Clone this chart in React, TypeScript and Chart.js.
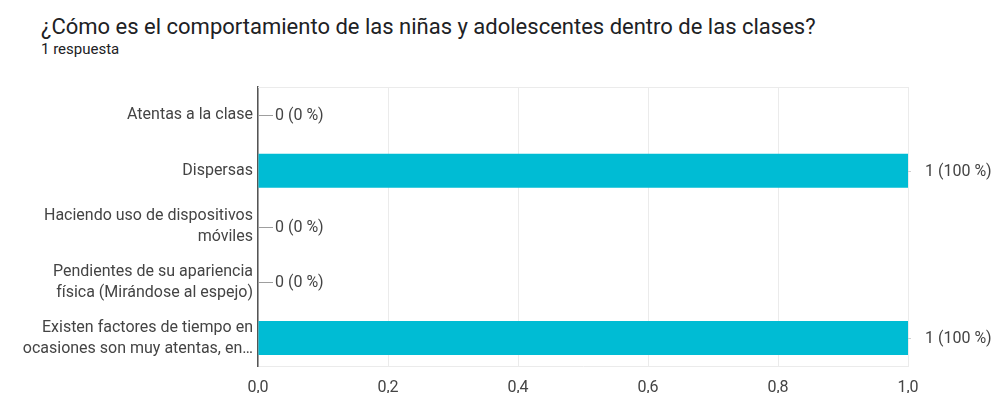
import React, { useEffect, useRef } from "react";
import { Chart, registerables } from "chart.js";

Chart.register(...registerables);

const titleText = "¿Cómo es el comportamiento de las niñas y adolescentes dentro de las clases?";
const subtitleText = "1 respuesta";

const categories: string[][] = [
  ["Atentas a la clase"],
  ["Dispersas"],
  ["Haciendo uso de dispositivos", "móviles"],
  ["Pendientes de su apariencia", "física (Mirándose al espejo)"],
  ["Existen factores de tiempo en", "ocasiones son muy atentas, en…"],
];
const counts: number[] = [0, 1, 0, 0, 1];
const percents: number[] = [0, 100, 0, 0, 100];
const xMin = 0;
const xMax = 1;
const xStep = 0.2;

const BAR_COLOR = "#00bcd4";
const TEXT_COLOR = "#444444";
const FONT = "Roboto, 'Noto Sans', Arial, sans-serif";

const annotationPlugin = {
  id: "barAnnotations",
  afterDatasetsDraw(chart: any) {
    const ctx = chart.ctx as CanvasRenderingContext2D;
    const meta = chart.getDatasetMeta(0);
    meta.data.forEach((bar: any, i: number) => {
      const x = bar.x;
      const y = Math.round(bar.y) + 0.5;
      const zero = counts[i] === 0;
      ctx.save();
      ctx.strokeStyle = zero ? "#9e9e9e" : "#cfcfcf";
      ctx.lineWidth = 1;
      ctx.beginPath();
      ctx.moveTo(x, y);
      ctx.lineTo(x + (zero ? 15 : 3), y);
      ctx.stroke();
      ctx.fillStyle = TEXT_COLOR;
      ctx.font = `16px ${FONT}`;
      ctx.textBaseline = "middle";
      ctx.textAlign = "left";
      ctx.fillText(`${counts[i]} (${percents[i]} %)`, x + (zero ? 17 : 17), y);
      ctx.restore();
    });
  },
};

const frameLinesPlugin = {
  id: "frameLines",
  beforeDatasetsDraw(chart: any) {
    const { ctx, chartArea } = chart;
    ctx.save();
    ctx.strokeStyle = "#ebebeb";
    ctx.lineWidth = 1;
    ctx.beginPath();
    ctx.moveTo(chartArea.left, chartArea.top + 0.5);
    ctx.lineTo(chartArea.right, chartArea.top + 0.5);
    ctx.stroke();
    ctx.restore();
  },
};

export default function App() {
  const canvasRef = useRef<HTMLCanvasElement | null>(null);

  useEffect(() => {
    document.body.style.margin = "0";
    const canvas = canvasRef.current;
    if (!canvas) return;
    const chart = new Chart(canvas, {
      type: "bar",
      data: {
        labels: categories,
        datasets: [
          {
            data: counts,
            backgroundColor: BAR_COLOR,
            borderWidth: 0,
            barPercentage: 0.61,
            categoryPercentage: 1,
          },
        ],
      },
      options: {
        indexAxis: "y",
        animation: false,
        responsive: true,
        maintainAspectRatio: false,
        layout: { padding: { left: 0, right: 90, top: 87, bottom: 0 } },
        plugins: {
          legend: { display: false },
          tooltip: { enabled: false },
        },
        scales: {
          x: {
            min: xMin,
            max: xMax,
            ticks: {
              stepSize: xStep,
              color: TEXT_COLOR,
              padding: 12,
              font: { family: FONT, size: 16 },
              callback: (v: any) => Number(v).toFixed(1).replace(".", ","),
            },
            grid: { color: "#ebebeb", drawTicks: false },
            border: { display: true, color: "#ebebeb" },
            afterFit: (scale: any) => {
              scale.height = 27;
            },
          },
          y: {
            ticks: {
              color: TEXT_COLOR,
              padding: 5,
              font: { family: FONT, size: 16, lineHeight: 1.3 },
            },
            grid: { display: false, drawTicks: false },
            border: { display: true, color: "#555555", width: 1.5 },
            afterFit: (scale: any) => {
              scale.width = 258;
            },
          },
        },
      },
      plugins: [frameLinesPlugin, annotationPlugin],
    });
    return () => chart.destroy();
  }, []);

  return (
    <div style={{ position: "fixed", left: 0, top: 0, width: 998, height: 393, background: "#fff" }}>
      <div
        style={{
          position: "absolute",
          left: 41,
          top: 14,
          fontFamily: FONT,
          fontSize: 22,
          lineHeight: "26px",
          color: "#202124",
          whiteSpace: "nowrap",
        }}
      >
        {titleText}
      </div>
      <div
        style={{
          position: "absolute",
          left: 41,
          top: 40,
          fontFamily: FONT,
          fontSize: 15,
          lineHeight: "18px",
          color: "#202124",
          whiteSpace: "nowrap",
        }}
      >
        {subtitleText}
      </div>
      <div style={{ position: "absolute", left: 0, top: 0, width: 998, height: 393 }}>
        <canvas ref={canvasRef} />
      </div>
    </div>
  );
}
